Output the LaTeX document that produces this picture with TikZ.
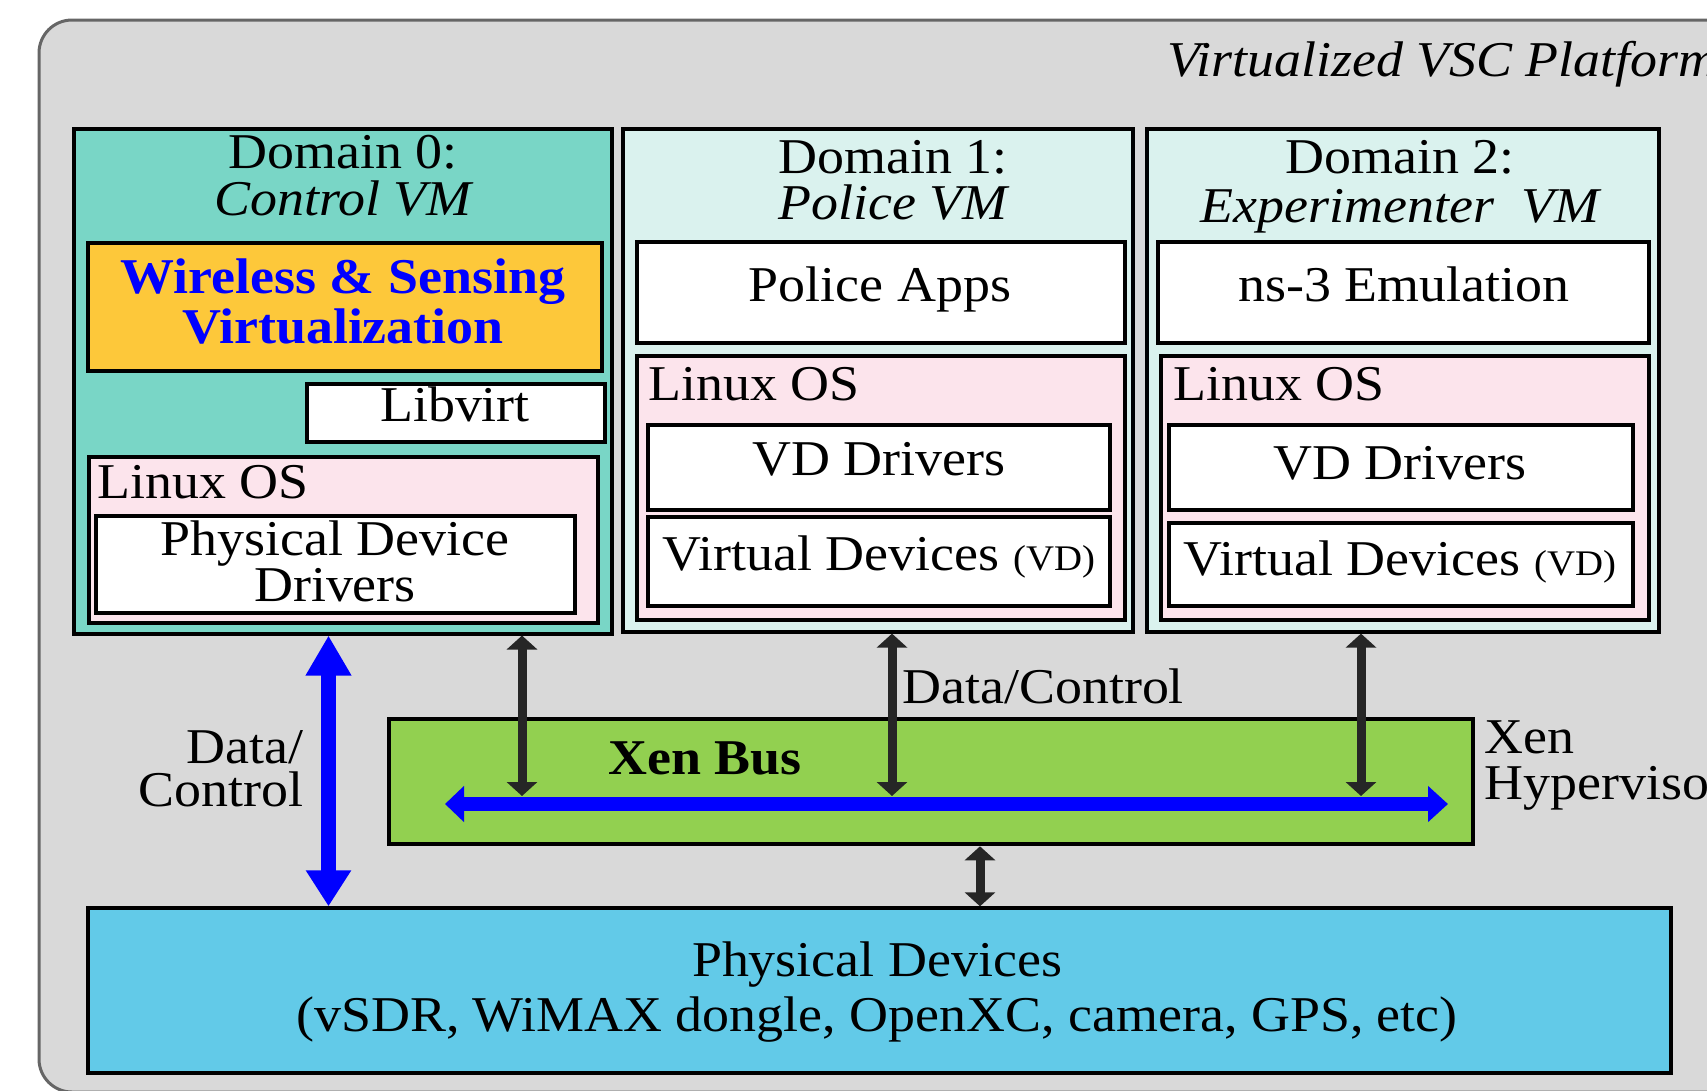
\documentclass[tikz,border=0pt]{standalone}
\usepackage{fontspec}
\setmainfont[FakeStretch=1.077]{Liberation Serif}
\usetikzlibrary{arrows.meta,fit}
\definecolor{bggray}{HTML}{D9D9D9}
\definecolor{framegray}{HTML}{666666}
\definecolor{tealdark}{HTML}{79D6C6}
\definecolor{teallight}{HTML}{DAF2EE}
\definecolor{pinkos}{HTML}{FCE4EC}
\definecolor{yellowbox}{HTML}{FDC83A}
\definecolor{greenbus}{HTML}{92D050}
\definecolor{cyanphys}{HTML}{62CAE8}
\definecolor{arrowblack}{HTML}{262626}
\newcommand{\diagfs}{\fontsize{28.5}{32}\selectfont}
\newcommand{\smallvd}{\fontsize{20.5}{24}\selectfont}
\begin{document}
\begin{tikzpicture}[x=0.02cm,y=-0.02cm,
  box/.style={draw=black, line width=0.08cm, inner sep=0pt},
  txt/.style={font=\diagfs, inner sep=0pt, anchor=base},
  txtl/.style={txt, anchor=base west},
  txtr/.style={txt, anchor=base east},
  blk/.style={draw=arrowblack, line width=0.18cm,
    {Triangle[length=0.28cm,width=0.6cm]}-{Triangle[length=0.28cm,width=0.6cm]}},
  bluev/.style={draw=blue, line width=0.3cm,
    {Triangle[length=0.8cm,width=0.86cm]}-{Triangle[length=0.72cm,width=0.86cm]}},
  bluebus/.style={draw=blue, line width=0.28cm,
    {Triangle[length=0.38cm,width=0.7cm]}-{Triangle[length=0.4cm,width=0.7cm]}}]
\useasboundingbox (0,0) rectangle (1707,1090);
\fill[white] (0,0) rectangle (1707,1090);
\clip (0,0) rectangle (1707,1090);
% outer platform frame
\draw[fill=bggray, draw=framegray, line width=0.06cm, rounded corners=0.66cm] (39,20) rectangle (1800,1092);
\node[txtl] (plat) at (1167,76) {\itshape Virtualized VSC Platform};
% Domain 0
\node[box, fill=tealdark, fit={(74,128.5) (612,633.5)}] (dom0) {};
\node[txt] (d0a) at (343,168) {Domain 0:};
\node[txt] (d0b) at (343,215) {\itshape Control VM};
\node[box, fill=yellowbox, fit={(88.4,242.7) (601.8,370.7)}] (wsv) {};
\node[txt, text=blue, font=\diagfs\bfseries] (wsva) at (343,293) {Wireless \& Sensing};
\node[txt, text=blue, font=\diagfs\bfseries] (wsvb) at (343,343) {Virtualization};
\node[box, fill=white, fit={(307,384) (605,441.7)}] (libv) {};
\node[txt] (libvt) at (455,421.5) {Libvirt};
\node[box, fill=pinkos, fit={(89,457) (598,623)}] (lin0) {};
\node[txtl] (lin0t) at (97,498.5) {Linux OS};
\node[box, fill=white, fit={(96,516) (575,613)}] (pdd) {};
\node[txt] (pdda) at (335,555) {Physical Device};
\node[txt] (pddb) at (335,601) {Drivers};
% Domain 1
\node[box, fill=teallight, fit={(623,128.8) (1133,631.6)}] (dom1) {};
\node[txt] (d1a) at (893,173.5) {Domain 1:};
\node[txt] (d1b) at (893,219.5) {\itshape Police VM};
\node[box, fill=white, fit={(636.7,242) (1124.7,342.8)}] (papps) {};
\node[txt] (pappst) at (880,301.5) {Police Apps};
\node[box, fill=pinkos, fit={(636.7,356) (1124.7,620)}] (lin1) {};
\node[txtl] (lin1t) at (648,400) {Linux OS};
\node[box, fill=white, fit={(648,424.6) (1110,510)}] (vdd1) {};
\node[txt] (vdd1t) at (879,475.5) {VD Drivers};
\node[box, fill=white, fit={(648,517) (1110,606)}] (vd1) {};
\node[txt] (vd1t) at (879,570) {Virtual Devices {\smallvd(VD)}};
% Domain 2
\node[box, fill=teallight, fit={(1147,128.8) (1659,631.6)}] (dom2) {};
\node[txt] (d2a) at (1400,173.5) {Domain 2:};
\node[txt] (d2b) at (1400,222.5) {\itshape Experimenter\ \ VM};
\node[box, fill=white, fit={(1158,242) (1648.7,342.8)}] (ns3) {};
\node[txt] (ns3t) at (1404,301.5) {ns-3 Emulation};
\node[box, fill=pinkos, fit={(1161.4,356) (1648.7,620)}] (lin2) {};
\node[txtl] (lin2t) at (1173,400) {Linux OS};
\node[box, fill=white, fit={(1168.5,424.6) (1633,510)}] (vdd2) {};
\node[txt] (vdd2t) at (1400,479) {VD Drivers};
\node[box, fill=white, fit={(1168.5,523) (1633,606)}] (vd2) {};
\node[txt] (vd2t) at (1400,575.5) {Virtual Devices {\smallvd(VD)}};
% Xen hypervisor
\node[box, fill=greenbus, fit={(388.6,719) (1473,844.3)}] (xen) {};
\node[txt, font=\diagfs\bfseries] (xenbust) at (705,774) {Xen Bus};
\node[txtl] (xena) at (1484,753) {Xen};
\node[txtl] (xenb) at (1484,799) {Hypervisor};
% Physical devices
\node[box, fill=cyanphys, fit={(87.8,908.3) (1670.8,1072.7)}] (phys) {};
\node[txt] (physa) at (877,976.5) {Physical Devices};
\node[txt] (physb) at (877,1031.5) {(vSDR, WiMAX dongle, OpenXC, camera, GPS, etc)};
% labels
\node[txtl] (dc1) at (902,703) {Data/Control};
\node[txtr, text depth=0pt] (dc2a) at (304,763) {Data/};
\node[txtr, text height=0.62em] (dc2b) at (304,806) {Control};
% connectors
\coordinate (busL) at (445,804);
\coordinate (busR) at (1448,804);
\draw[bluebus] (busL) -- (busR);
\coordinate (j1) at (522,796);
\coordinate (j2) at (892,796);
\coordinate (j3) at (1361,796);
\coordinate (j4) at (980,0);
\coordinate (v0) at (328.5,0);
\draw[blk] (j1 |- dom0.south) -- (j1);
\draw[blk] (j2 |- dom1.south) -- (j2);
\draw[blk] (j3 |- dom2.south) -- (j3);
\draw[blk] (j4 |- xen.south) -- (j4 |- phys.north);
\draw[bluev] (v0 |- dom0.south) -- (v0 |- phys.north);
\end{tikzpicture}
\end{document}
